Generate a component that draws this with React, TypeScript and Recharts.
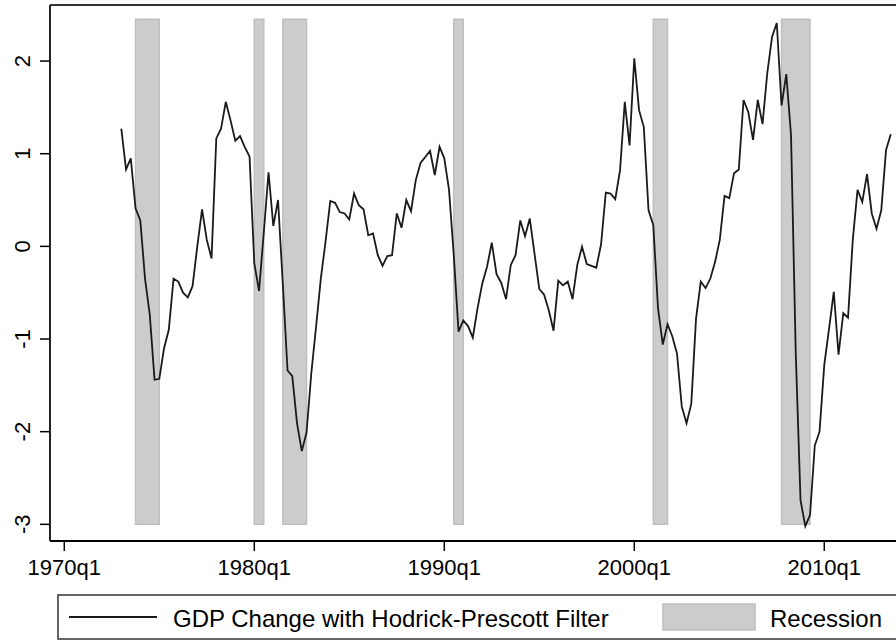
import React from "react";
import {
  LineChart,
  Line,
  XAxis,
  YAxis,
  ReferenceArea,
  ReferenceLine,
} from "recharts";

// quarters counted from 1970q1 = 0
const START_Q = 12; // 1973q1
const GDP_HP = [
  1.27, 0.83, 0.95, 0.41, 0.28, -0.35, -0.74, -1.44, -1.43, -1.1, -0.9, -0.35,
  -0.38, -0.5, -0.55, -0.43, 0.0, 0.4, 0.07, -0.13, 1.165, 1.27, 1.56, 1.36,
  1.14, 1.19, 1.07, 0.97, -0.185, -0.48, 0.15, 0.8, 0.22, 0.5, -0.4, -1.34,
  -1.4, -1.91, -2.21, -2.01, -1.37, -0.87, -0.35, 0.05, 0.49, 0.47, 0.37, 0.355,
  0.29, 0.57, 0.445, 0.4, 0.12, 0.14, -0.095, -0.21, -0.105, -0.095, 0.355, 0.2,
  0.5, 0.38, 0.715, 0.9, 0.965, 1.03, 0.77, 1.075, 0.95, 0.61, -0.1, -0.92,
  -0.8, -0.86, -0.985, -0.67, -0.4, -0.22, 0.04, -0.3, -0.395, -0.57, -0.2, -0.095,
  0.28, 0.11, 0.3, -0.08, -0.46, -0.52, -0.69, -0.91, -0.37, -0.42, -0.38, -0.57,
  -0.2, -0.005, -0.19, -0.21, -0.23, 0.02, 0.58, 0.57, 0.51, 0.82, 1.56, 1.09,
  2.03, 1.47, 1.29, 0.39, 0.23, -0.67, -1.06, -0.84, -0.97, -1.16, -1.73, -1.91,
  -1.7, -0.78, -0.38, -0.45, -0.35, -0.17, 0.07, 0.545, 0.52, 0.79, 0.83, 1.58,
  1.45, 1.15, 1.58, 1.32, 1.87, 2.26, 2.41, 1.52, 1.86, 1.2, -1.16, -2.74,
  -3.02, -2.9, -2.15, -2.0, -1.28, -0.89, -0.49, -1.17, -0.72, -0.77, 0.07, 0.61,
  0.48, 0.78, 0.355, 0.19, 0.39, 1.04, 1.21,
];

// recession start / end quarters
const REC_START = [15, 40, 46, 82, 124, 151];
const REC_END = [20, 42, 51, 84, 127, 157];
const REC_LOW = -3;
const REC_HIGH = 2.45;

const X_TICKS = [0, 40, 80, 120, 160];
const X_LABELS = ["1970q1", "1980q1", "1990q1", "2000q1", "2010q1"];
const Y_TICKS = [-3, -2, -1, 0, 1, 2];

const X_MIN = -3.01;
const X_MAX = 175.1;
const Y_MIN = -3.18;
const Y_MAX = 2.605;

const FONT = "'Liberation Sans', Arial, Helvetica, sans-serif";

const data = GDP_HP.map((v, i) => ({ q: START_Q + i, v }));

function XTick({ x, payload }: any) {
  const i = X_TICKS.indexOf(payload.value);
  return (
    <text x={x} y={575} textAnchor="middle" fontSize={22} fontFamily={FONT} fill="#000">
      {X_LABELS[i]}
    </text>
  );
}

function YTick({ y, payload }: any) {
  return (
    <text
      x={30}
      y={y}
      transform={`rotate(-90, 30, ${y})`}
      textAnchor="middle"
      fontSize={22}
      fontFamily={FONT}
      fill="#000"
    >
      {payload.value}
    </text>
  );
}

export default function App() {
  return (
    <div style={{ position: "absolute", left: 0, top: 0, width: 896, height: 640, background: "#fff", overflow: "hidden" }}>
      <LineChart width={896} height={640} data={data} margin={{ top: 5, right: 0, left: 0, bottom: 0 }}>
        <XAxis
          dataKey="q"
          type="number"
          domain={[X_MIN, X_MAX]}
          allowDataOverflow
          ticks={X_TICKS}
          height={99}
          tickSize={10}
          tickLine={{ stroke: "#000", strokeWidth: 1.5 }}
          axisLine={{ stroke: "#000", strokeWidth: 2 }}
          tick={<XTick />}
          interval={0}
        />
        <YAxis
          type="number"
          domain={[Y_MIN, Y_MAX]}
          allowDataOverflow
          ticks={Y_TICKS}
          width={50}
          tickSize={10}
          tickLine={{ stroke: "#000", strokeWidth: 1.5 }}
          axisLine={{ stroke: "#222", strokeWidth: 2 }}
          tick={<YTick />}
          interval={0}
        />
        {REC_START.map((s, i) => (
          <ReferenceArea
            key={i}
            x1={s}
            x2={REC_END[i]}
            y1={REC_LOW}
            y2={REC_HIGH}
            fill="#cccccc"
            fillOpacity={1}
            stroke="#bfbfbf"
            strokeWidth={1.5}
          />
        ))}
        <ReferenceLine y={Y_MAX} stroke="#333" strokeWidth={2} />
        <Line
          type="linear"
          dataKey="v"
          stroke="#1a1a1a"
          strokeWidth={1.8}
          dot={false}
          isAnimationActive={false}
        />
      </LineChart>
      <svg width={896} height={640} style={{ position: "absolute", left: 0, top: 0, pointerEvents: "none" }}>
        <rect x={58} y={595} width={860} height={44} fill="#fff" stroke="#333" strokeWidth={1.5} />
        <line x1={69} x2={157} y1={617} y2={617} stroke="#1a1a1a" strokeWidth={2} />
        <text x={173} y={627} fontSize={24} fontFamily={FONT} fill="#000">
          GDP Change with Hodrick-Prescott Filter
        </text>
        <rect x={663} y={604} width={92} height={26} fill="#cccccc" stroke="#bfbfbf" strokeWidth={1.5} />
        <text x={770} y={627} fontSize={24} fontFamily={FONT} fill="#000">
          Recession
        </text>
      </svg>
    </div>
  );
}
